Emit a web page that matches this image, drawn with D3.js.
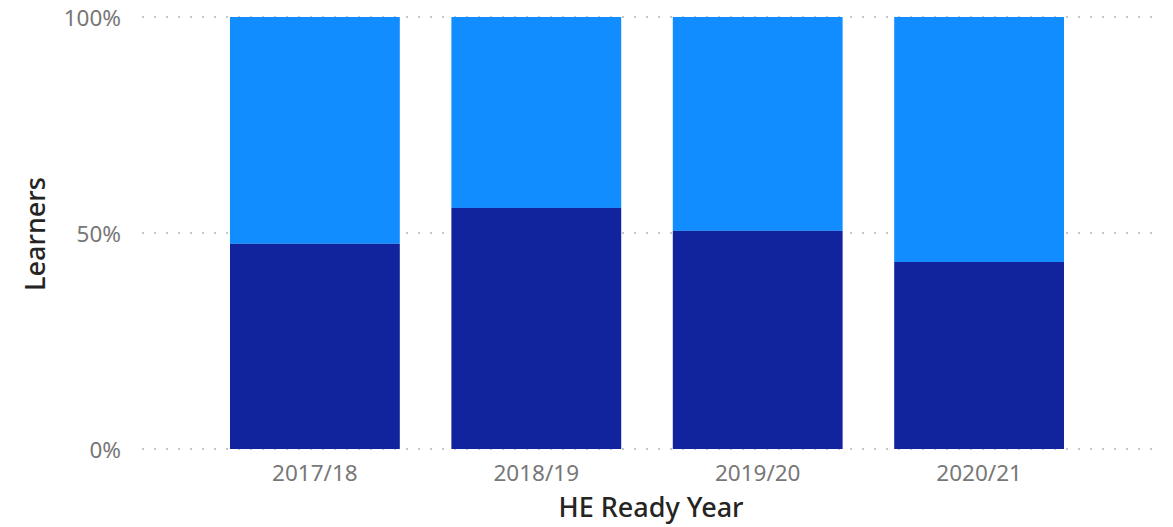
<!DOCTYPE html>
<html>
<head>
<meta charset="utf-8">
<script src="https://cdn.jsdelivr.net/npm/d3@7"></script>
<style>
  body { margin: 0; background: #fff; }
  text { font-family: "Noto Sans", "Open Sans", sans-serif; }
</style>
</head>
<body>
<script>
// data
var years = ["2017/18", "2018/19", "2019/20", "2020/21"];
var darkShare = [0.475, 0.558, 0.505, 0.433];
var lightShare = [0.525, 0.442, 0.495, 0.567];
var yTicks = [0, 0.5, 1];

var svgWidth = 1173;
var svgHeight = 527;

var svg = d3.select("body")
  .append("svg")
  .attr("width", svgWidth)
  .attr("height", svgHeight);

var x = d3.scaleBand()
  .domain(years)
  .range([137, 1157])
  .paddingInner(0.233)
  .paddingOuter(0.42);

var y = d3.scaleLinear()
  .domain([0, 1])
  .range([449, 17]);

// dotted gridlines
svg.append("g")
  .selectAll("line")
  .data(yTicks)
  .enter()
  .append("line")
  .attr("x1", 142)
  .attr("x2", 1160)
  .attr("y1", d => y(d))
  .attr("y2", d => y(d))
  .attr("stroke", "#c8c8c8")
  .attr("stroke-width", 2)
  .attr("stroke-dasharray", "2,10");

// stacked bars
var rows = years.map((yr, i) => ({ year: yr, dark: darkShare[i], light: lightShare[i] }));

svg.append("g")
  .selectAll("rect")
  .data(rows)
  .enter()
  .append("rect")
  .attr("x", d => x(d.year))
  .attr("width", x.bandwidth())
  .attr("y", d => y(d.dark + d.light))
  .attr("height", d => y(d.dark) - y(d.dark + d.light))
  .attr("fill", "#118DFF");

svg.append("g")
  .selectAll("rect")
  .data(rows)
  .enter()
  .append("rect")
  .attr("x", d => x(d.year))
  .attr("width", x.bandwidth())
  .attr("y", d => y(d.dark))
  .attr("height", d => y(0) - y(d.dark))
  .attr("fill", "#12239E");

// y axis labels
var yAxis = d3.axisLeft(y)
  .tickValues(yTicks)
  .tickFormat(d3.format(".0%"))
  .tickSize(0)
  .tickPadding(0);

var yg = svg.append("g")
  .attr("transform", "translate(121,1)")
  .call(yAxis);
yg.select(".domain").remove();
yg.selectAll("text")
  .attr("fill", "#777777")
  .style("font-size", "22.5px");

// x axis labels
var xAxis = d3.axisBottom(x)
  .tickSize(0)
  .tickPadding(0);

var xg = svg.append("g")
  .attr("transform", "translate(0,465)")
  .call(xAxis);
xg.select(".domain").remove();
xg.selectAll("text")
  .attr("fill", "#777777")
  .style("font-size", "22.5px");

// axis titles
svg.append("text")
  .attr("x", 651)
  .attr("y", 517)
  .attr("text-anchor", "middle")
  .attr("fill", "#252423")
  .style("font-size", "27px")
  .style("font-weight", 500)
  .text("HE Ready Year");

svg.append("text")
  .attr("transform", "translate(45,234) rotate(-90)")
  .attr("text-anchor", "middle")
  .attr("fill", "#252423")
  .style("font-size", "27px")
  .style("font-weight", 500)
  .text("Learners");
</script>
</body>
</html>
